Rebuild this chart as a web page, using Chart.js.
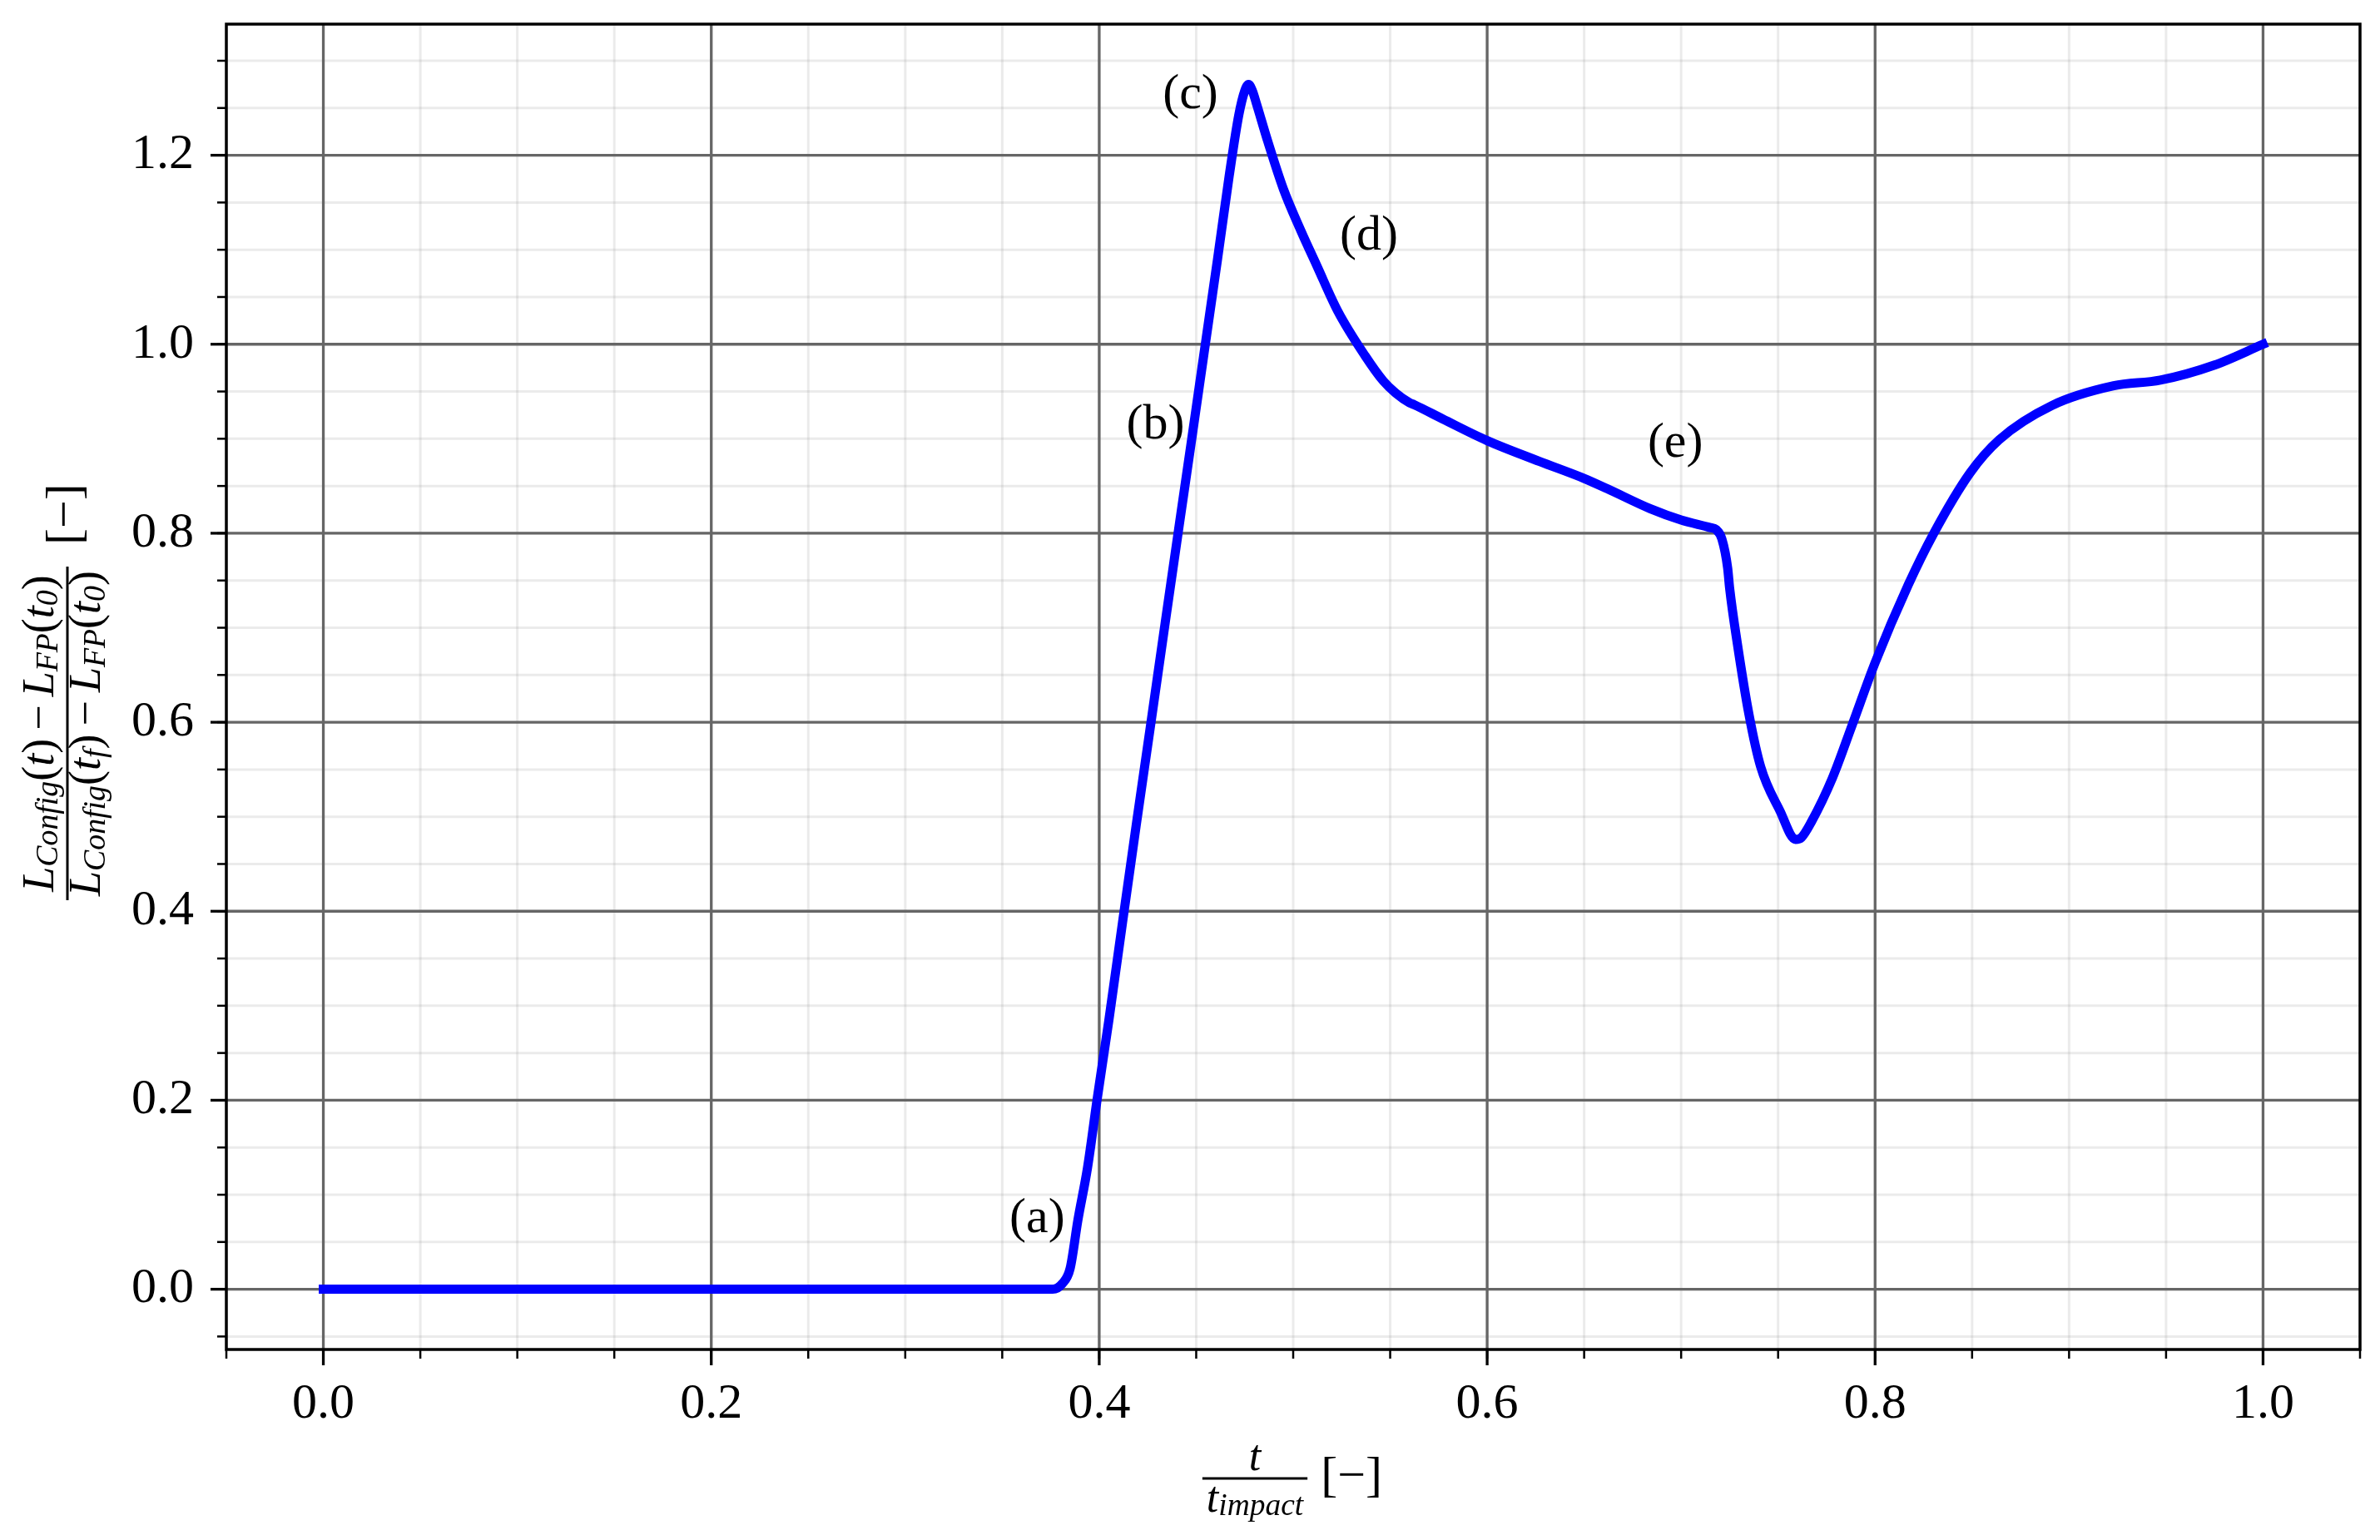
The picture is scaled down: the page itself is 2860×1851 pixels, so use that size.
<!DOCTYPE html>
<html>
<head>
<meta charset="utf-8">
<script src="https://cdn.jsdelivr.net/npm/chart.js@4.4.1/dist/chart.umd.min.js"></script>
<style>
  html, body { margin: 0; padding: 0; background: #fff; }
  canvas { display: block; }
</style>
</head>
<body>
<canvas id="lengthChart" width="2860" height="1851"></canvas>
<script>
// normalised time t / t_impact
const tValues = [
  0.0, 0.376, 0.381, 0.385, 0.389, 0.394, 0.399, 0.405, 0.412, 0.419,
  0.426, 0.434, 0.441, 0.4475, 0.454, 0.461, 0.467, 0.472, 0.475, 0.477,
  0.479, 0.481, 0.487, 0.495, 0.504, 0.512, 0.523, 0.537, 0.5465, 0.553,
  0.560, 0.5624, 0.577, 0.600, 0.627, 0.650, 0.662, 0.684, 0.700, 0.715,
  0.718, 0.721, 0.724, 0.725, 0.729, 0.735, 0.741, 0.751, 0.759, 0.762,
  0.767, 0.778, 0.788, 0.800, 0.817, 0.830, 0.849, 0.864, 0.891, 0.923,
  0.947, 0.975, 1.0
];
// normalised configuration length
const lengthRatio = [
  0.0, 0.0, 0.006, 0.022, 0.073, 0.129, 0.202, 0.285, 0.388, 0.490,
  0.590, 0.705, 0.805, 0.897, 0.990, 1.090, 1.178, 1.243, 1.268, 1.275,
  1.268, 1.255, 1.214, 1.164, 1.120, 1.084, 1.035, 0.988, 0.961, 0.948,
  0.938, 0.936, 0.921, 0.898, 0.876, 0.858, 0.847, 0.826, 0.814, 0.806,
  0.804, 0.794, 0.763, 0.742, 0.683, 0.608, 0.553, 0.506, 0.476, 0.478,
  0.494, 0.541, 0.596, 0.663, 0.745, 0.799, 0.864, 0.899, 0.935, 0.956,
  0.962, 0.978, 1.0
];

const xTickLabels = ['0.0', '0.2', '0.4', '0.6', '0.8', '1.0'];
const yTickLabels = ['0.0', '0.2', '0.4', '0.6', '0.8', '1.0', '1.2'];

const phaseLabels = ['(a)', '(b)', '(c)', '(d)', '(e)'];
const phaseT = [0.368, 0.429, 0.447, 0.539, 0.697];
const phaseValue = [0.074, 0.914, 1.264, 1.114, 0.895];

const SERIF = '"Liberation Serif", "Times New Roman", serif';

function steps(from, to) {
  // minor tick positions every 0.05
  let out = [];
  for (let i = Math.ceil(from * 20); i <= Math.floor(to * 20); i++) out.push(i / 20);
  return out;
}

// tiny helper for the math-ish labels
function runsWidth(ctx, runs, size, subScale) {
  let w = 0;
  runs.forEach((r) => {
    let s = r.sub ? size * subScale : size;
    ctx.font = (r.it ? 'italic ' : '') + s + 'px ' + SERIF;
    w += (r.pre || 0) + ctx.measureText(r.t).width + (r.post || 0);
  });
  return w;
}
function drawRuns(ctx, runs, x, y, size, subScale, subDrop) {
  let cx = x;
  runs.forEach((r) => {
    let s = r.sub ? size * subScale : size;
    ctx.font = (r.it ? 'italic ' : '') + s + 'px ' + SERIF;
    cx += r.pre || 0;
    ctx.fillText(r.t, cx, y + (r.sub ? subDrop : 0));
    cx += ctx.measureText(r.t).width + (r.post || 0);
  });
}

const numRuns = [
  { t: 'L', it: 1 }, { t: 'Config', it: 1, sub: 1 }, { t: '(' }, { t: 't', it: 1 }, { t: ')' },
  { t: '\u2212', pre: 10, post: 10 },
  { t: 'L', it: 1 }, { t: 'FP', it: 1, sub: 1 }, { t: '(' }, { t: 't', it: 1 }, { t: '0', it: 1, sub: 1 }, { t: ')' }
];
const denRuns = [
  { t: 'L', it: 1 }, { t: 'Config', it: 1, sub: 1 }, { t: '(' }, { t: 't', it: 1 }, { t: 'f', it: 1, sub: 1 }, { t: ')' },
  { t: '\u2212', pre: 10, post: 10 },
  { t: 'L', it: 1 }, { t: 'FP', it: 1, sub: 1 }, { t: '(' }, { t: 't', it: 1 }, { t: '0', it: 1, sub: 1 }, { t: ')' }
];

const mplLook = {
  id: 'mplLook',
  beforeDatasetsDraw(chart) {
    const { ctx, chartArea: a, scales: { x, y } } = chart;
    ctx.save();
    // minor grid
    ctx.strokeStyle = 'rgba(153,153,153,0.2)';
    ctx.lineWidth = 3;
    steps(x.min, x.max).forEach((v) => {
      let px = x.getPixelForValue(v);
      ctx.beginPath(); ctx.moveTo(px, a.top); ctx.lineTo(px, a.bottom); ctx.stroke();
    });
    steps(y.min, y.max).forEach((v) => {
      let py = y.getPixelForValue(v);
      ctx.beginPath(); ctx.moveTo(a.left, py); ctx.lineTo(a.right, py); ctx.stroke();
    });
    // major grid
    ctx.strokeStyle = '#666666';
    ctx.lineWidth = 3.3;
    xTickLabels.forEach((s) => {
      let px = x.getPixelForValue(parseFloat(s));
      ctx.beginPath(); ctx.moveTo(px, a.top); ctx.lineTo(px, a.bottom); ctx.stroke();
    });
    yTickLabels.forEach((s) => {
      let py = y.getPixelForValue(parseFloat(s));
      ctx.beginPath(); ctx.moveTo(a.left, py); ctx.lineTo(a.right, py); ctx.stroke();
    });
    ctx.restore();
  },
  afterDatasetsDraw(chart) {
    const { ctx, chartArea: a, scales: { x, y } } = chart;
    ctx.save();
    ctx.strokeStyle = '#000';
    // minor ticks
    ctx.lineWidth = 2.5;
    steps(x.min, x.max).forEach((v) => {
      let px = x.getPixelForValue(v);
      ctx.beginPath(); ctx.moveTo(px, a.bottom); ctx.lineTo(px, a.bottom + 11); ctx.stroke();
    });
    steps(y.min, y.max).forEach((v) => {
      let py = y.getPixelForValue(v);
      ctx.beginPath(); ctx.moveTo(a.left, py); ctx.lineTo(a.left - 11, py); ctx.stroke();
    });
    // major ticks
    ctx.lineWidth = 3.3;
    xTickLabels.forEach((s) => {
      let px = x.getPixelForValue(parseFloat(s));
      ctx.beginPath(); ctx.moveTo(px, a.bottom); ctx.lineTo(px, a.bottom + 19); ctx.stroke();
    });
    yTickLabels.forEach((s) => {
      let py = y.getPixelForValue(parseFloat(s));
      ctx.beginPath(); ctx.moveTo(a.left, py); ctx.lineTo(a.left - 19, py); ctx.stroke();
    });
    // frame
    ctx.lineWidth = 3.5;
    ctx.strokeRect(a.left, a.top, a.right - a.left, a.bottom - a.top);

    // phase labels
    ctx.fillStyle = '#000';
    ctx.font = '60px ' + SERIF;
    ctx.textAlign = 'center';
    ctx.textBaseline = 'middle';
    phaseLabels.forEach((lab, i) => {
      ctx.fillText(lab, x.getPixelForValue(phaseT[i]), y.getPixelForValue(phaseValue[i]));
    });

    // x axis title: t / t_impact [-]
    ctx.textAlign = 'left';
    ctx.textBaseline = 'alphabetic';
    let xc = x.getPixelForValue(0.5) - 46;
    let barY = a.bottom + 155;
    let num = [{ t: 't', it: 1 }];
    let den = [{ t: 't', it: 1 }, { t: 'impact', it: 1, sub: 1 }];
    let fs = 52;
    let wn = runsWidth(ctx, num, fs, 0.72), wd = runsWidth(ctx, den, fs, 0.72);
    let bw = Math.max(wn, wd) + 10;
    drawRuns(ctx, num, xc - wn / 2, barY - 10, fs, 0.72, 0);
    drawRuns(ctx, den, xc - wd / 2, barY + 40, fs, 0.72, 4);
    ctx.fillRect(xc - bw / 2, barY - 1.5, bw, 3);
    ctx.font = '60px ' + SERIF;
    ctx.fillText('[\u2212]', xc + bw / 2 + 16, barY + 15);

    // y axis title (rotated fraction)
    ctx.translate(81, (a.top + a.bottom) / 2 + 56);
    ctx.rotate(-Math.PI / 2);
    fs = 54;
    wn = runsWidth(ctx, numRuns, fs, 0.7);
    wd = runsWidth(ctx, denRuns, fs, 0.7);
    bw = Math.max(wn, wd) + 10;
    drawRuns(ctx, numRuns, -wn / 2, -17, fs, 0.7, 5);
    drawRuns(ctx, denRuns, -wd / 2, 39, fs, 0.7, 6);
    ctx.fillRect(-bw / 2, -1.5, bw, 3);
    ctx.font = '60px ' + SERIF;
    ctx.fillText('[\u2212]', bw / 2 + 26, 15);
    ctx.restore();
  }
};

new Chart(document.getElementById('lengthChart'), {
  type: 'line',
  data: {
    datasets: [{
      data: tValues.map((t, i) => ({ x: t, y: lengthRatio[i] })),
      borderColor: '#0000ff',
      borderWidth: 11,
      borderJoinStyle: 'round',
      borderCapStyle: 'square',
      cubicInterpolationMode: 'monotone',
      pointRadius: 0,
      fill: false
    }]
  },
  options: {
    responsive: false,
    devicePixelRatio: 1,
    animation: false,
    layout: { padding: { top: 29, right: 24, left: 0, bottom: 0 } },
    plugins: { legend: { display: false }, tooltip: { enabled: false } },
    scales: {
      x: {
        type: 'linear',
        min: -0.05,
        max: 1.05,
        grid: { display: false, drawTicks: false },
        border: { display: false },
        afterBuildTicks: (s) => { s.ticks = xTickLabels.map((l) => ({ value: parseFloat(l) })); },
        afterFit: (s) => { s.height = 229; s.paddingLeft = 0; s.paddingRight = 0; },
        ticks: {
          autoSkip: false,
          maxRotation: 0,
          padding: 30,
          color: '#000',
          font: { family: SERIF, size: 60 },
          callback: (v, i) => xTickLabels[i]
        }
      },
      y: {
        type: 'linear',
        min: -0.06375,
        max: 1.33875,
        grid: { display: false, drawTicks: false },
        border: { display: false },
        afterBuildTicks: (s) => { s.ticks = yTickLabels.map((l) => ({ value: parseFloat(l) })); },
        afterFit: (s) => { s.width = 272; s.paddingTop = 0; s.paddingBottom = 0; },
        ticks: {
          autoSkip: false,
          padding: 39,
          color: '#000',
          font: { family: SERIF, size: 60 },
          callback: (v, i) => yTickLabels[i]
        }
      }
    }
  },
  plugins: [mplLook]
});
</script>
</body>
</html>
